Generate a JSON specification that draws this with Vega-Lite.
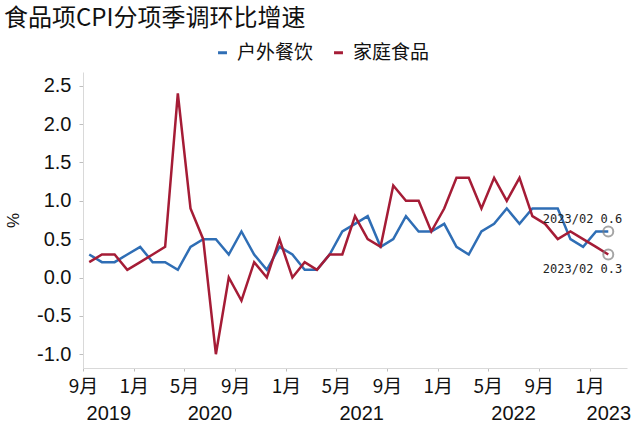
{
  "$schema": "https://vega.github.io/schema/vega-lite/v6.json",
  "width": 544,
  "height": 296,
  "autosize": {"type": "none"},
  "padding": {"left": 83, "top": 72, "right": 14, "bottom": 58},
  "background": "white",
  "title": {
    "text": "食品项CPI分项季调环比增速",
    "anchor": "start",
    "frame": "group",
    "dx": -79,
    "offset": 12,
    "font": "Noto Sans CJK SC",
    "fontSize": 24,
    "fontWeight": "normal",
    "color": "#111111"
  },
  "config": {
    "view": {"stroke": null},
    "axis": {"grid": false}
  },
  "data": {
    "values": [
      {"date": "2019-09", "series": "户外餐饮", "value": 0.3},
      {"date": "2019-10", "series": "户外餐饮", "value": 0.2},
      {"date": "2019-11", "series": "户外餐饮", "value": 0.2},
      {"date": "2019-12", "series": "户外餐饮", "value": 0.3},
      {"date": "2020-01", "series": "户外餐饮", "value": 0.4},
      {"date": "2020-02", "series": "户外餐饮", "value": 0.2},
      {"date": "2020-03", "series": "户外餐饮", "value": 0.2},
      {"date": "2020-04", "series": "户外餐饮", "value": 0.1},
      {"date": "2020-05", "series": "户外餐饮", "value": 0.4},
      {"date": "2020-06", "series": "户外餐饮", "value": 0.5},
      {"date": "2020-07", "series": "户外餐饮", "value": 0.5},
      {"date": "2020-08", "series": "户外餐饮", "value": 0.3},
      {"date": "2020-09", "series": "户外餐饮", "value": 0.6},
      {"date": "2020-10", "series": "户外餐饮", "value": 0.3},
      {"date": "2020-11", "series": "户外餐饮", "value": 0.1},
      {"date": "2020-12", "series": "户外餐饮", "value": 0.4},
      {"date": "2021-01", "series": "户外餐饮", "value": 0.3},
      {"date": "2021-02", "series": "户外餐饮", "value": 0.1},
      {"date": "2021-03", "series": "户外餐饮", "value": 0.1},
      {"date": "2021-04", "series": "户外餐饮", "value": 0.3},
      {"date": "2021-05", "series": "户外餐饮", "value": 0.6},
      {"date": "2021-06", "series": "户外餐饮", "value": 0.7},
      {"date": "2021-07", "series": "户外餐饮", "value": 0.8},
      {"date": "2021-08", "series": "户外餐饮", "value": 0.4},
      {"date": "2021-09", "series": "户外餐饮", "value": 0.5},
      {"date": "2021-10", "series": "户外餐饮", "value": 0.8},
      {"date": "2021-11", "series": "户外餐饮", "value": 0.6},
      {"date": "2021-12", "series": "户外餐饮", "value": 0.6},
      {"date": "2022-01", "series": "户外餐饮", "value": 0.7},
      {"date": "2022-02", "series": "户外餐饮", "value": 0.4},
      {"date": "2022-03", "series": "户外餐饮", "value": 0.3},
      {"date": "2022-04", "series": "户外餐饮", "value": 0.6},
      {"date": "2022-05", "series": "户外餐饮", "value": 0.7},
      {"date": "2022-06", "series": "户外餐饮", "value": 0.9},
      {"date": "2022-07", "series": "户外餐饮", "value": 0.7},
      {"date": "2022-08", "series": "户外餐饮", "value": 0.9},
      {"date": "2022-09", "series": "户外餐饮", "value": 0.9},
      {"date": "2022-10", "series": "户外餐饮", "value": 0.9},
      {"date": "2022-11", "series": "户外餐饮", "value": 0.5},
      {"date": "2022-12", "series": "户外餐饮", "value": 0.4},
      {"date": "2023-01", "series": "户外餐饮", "value": 0.6},
      {"date": "2023-02", "series": "户外餐饮", "value": 0.6},
      {"date": "2019-09", "series": "家庭食品", "value": 0.2},
      {"date": "2019-10", "series": "家庭食品", "value": 0.3},
      {"date": "2019-11", "series": "家庭食品", "value": 0.3},
      {"date": "2019-12", "series": "家庭食品", "value": 0.1},
      {"date": "2020-01", "series": "家庭食品", "value": 0.2},
      {"date": "2020-02", "series": "家庭食品", "value": 0.3},
      {"date": "2020-03", "series": "家庭食品", "value": 0.4},
      {"date": "2020-04", "series": "家庭食品", "value": 2.4},
      {"date": "2020-05", "series": "家庭食品", "value": 0.9},
      {"date": "2020-06", "series": "家庭食品", "value": 0.5},
      {"date": "2020-07", "series": "家庭食品", "value": -1.0},
      {"date": "2020-08", "series": "家庭食品", "value": 0.0},
      {"date": "2020-09", "series": "家庭食品", "value": -0.3},
      {"date": "2020-10", "series": "家庭食品", "value": 0.2},
      {"date": "2020-11", "series": "家庭食品", "value": 0.0},
      {"date": "2020-12", "series": "家庭食品", "value": 0.5},
      {"date": "2021-01", "series": "家庭食品", "value": 0.0},
      {"date": "2021-02", "series": "家庭食品", "value": 0.2},
      {"date": "2021-03", "series": "家庭食品", "value": 0.1},
      {"date": "2021-04", "series": "家庭食品", "value": 0.3},
      {"date": "2021-05", "series": "家庭食品", "value": 0.3},
      {"date": "2021-06", "series": "家庭食品", "value": 0.8},
      {"date": "2021-07", "series": "家庭食品", "value": 0.5},
      {"date": "2021-08", "series": "家庭食品", "value": 0.4},
      {"date": "2021-09", "series": "家庭食品", "value": 1.2},
      {"date": "2021-10", "series": "家庭食品", "value": 1.0},
      {"date": "2021-11", "series": "家庭食品", "value": 1.0},
      {"date": "2021-12", "series": "家庭食品", "value": 0.6},
      {"date": "2022-01", "series": "家庭食品", "value": 0.9},
      {"date": "2022-02", "series": "家庭食品", "value": 1.3},
      {"date": "2022-03", "series": "家庭食品", "value": 1.3},
      {"date": "2022-04", "series": "家庭食品", "value": 0.9},
      {"date": "2022-05", "series": "家庭食品", "value": 1.3},
      {"date": "2022-06", "series": "家庭食品", "value": 1.0},
      {"date": "2022-07", "series": "家庭食品", "value": 1.3},
      {"date": "2022-08", "series": "家庭食品", "value": 0.8},
      {"date": "2022-09", "series": "家庭食品", "value": 0.7},
      {"date": "2022-10", "series": "家庭食品", "value": 0.5},
      {"date": "2022-11", "series": "家庭食品", "value": 0.6},
      {"date": "2022-12", "series": "家庭食品", "value": 0.5},
      {"date": "2023-01", "series": "家庭食品", "value": 0.4},
      {"date": "2023-02", "series": "家庭食品", "value": 0.3}
    ]
  },
  "layer": [
    {
      "mark": {"type": "line", "strokeWidth": 2.5},
      "encoding": {
        "x": {
          "field": "date",
          "type": "temporal",
          "timeUnit": "utcyearmonth",
          "bandPosition": 0.5,
          "title": null,
          "scale": {
            "type": "utc",
            "domain": [
              {"year": 2019, "month": 9, "date": 1, "utc": true},
              {"year": 2023, "month": 4, "date": 1, "utc": true}
            ]
          },
          "axis": {
            "orient": "bottom",
            "values": [
              {"year": 2019, "month": 9, "date": 1, "utc": true},
              {"year": 2020, "month": 1, "date": 1, "utc": true},
              {"year": 2020, "month": 5, "date": 1, "utc": true},
              {"year": 2020, "month": 9, "date": 1, "utc": true},
              {"year": 2021, "month": 1, "date": 1, "utc": true},
              {"year": 2021, "month": 5, "date": 1, "utc": true},
              {"year": 2021, "month": 9, "date": 1, "utc": true},
              {"year": 2022, "month": 1, "date": 1, "utc": true},
              {"year": 2022, "month": 5, "date": 1, "utc": true},
              {"year": 2022, "month": 9, "date": 1, "utc": true},
              {"year": 2023, "month": 1, "date": 1, "utc": true}
            ],
            "labelExpr": "utcFormat(datum.value, '%-m') + '月'",
            "domainColor": "#d9d9d9",
            "domainWidth": 1,
            "tickColor": "#bfbfbf",
            "tickSize": 3,
            "labelPadding": 6,
            "labelFont": "Noto Sans CJK SC",
            "labelFontSize": 19,
            "labelColor": "#111111",
            "labelFlush": false,
            "labelOverlap": false
          }
        },
        "y": {
          "field": "value",
          "type": "quantitative",
          "title": "%",
          "scale": {"domain": [-1.18, 2.68], "nice": false, "zero": false},
          "axis": {
            "values": [-1, -0.5, 0, 0.5, 1, 1.5, 2, 2.5],
            "labelExpr": "replace(format(datum.value, '.1f'), '−', '-')",
            "domainColor": "#d9d9d9",
            "tickColor": "#bfbfbf",
            "tickSize": 4,
            "labelPadding": 8,
            "labelFont": "Liberation Sans",
            "labelFontSize": 20,
            "labelColor": "#111111",
            "titleFont": "Liberation Sans",
            "titleFontSize": 17,
            "titleFontWeight": "normal",
            "titleColor": "#111111",
            "titlePadding": 14
          }
        },
        "color": {
          "field": "series",
          "type": "nominal",
          "scale": {"domain": ["户外餐饮", "家庭食品"], "range": ["#2f6eb5", "#a51c36"]},
          "legend": {
            "title": null,
            "orient": "none",
            "direction": "horizontal",
            "legendX": 130,
            "legendY": -29,
            "symbolType": "stroke",
            "symbolSize": 80,
            "symbolStrokeWidth": 3,
            "labelFont": "Noto Sans CJK SC",
            "labelFontSize": 19,
            "labelColor": "#111111",
            "labelOffset": 5,
            "columnPadding": 14
          }
        }
      }
    },
    {
      "mark": {"type": "point", "opacity": 0},
      "encoding": {
        "x": {
          "field": "date",
          "type": "temporal",
          "timeUnit": "utcyearmonth",
          "bandPosition": 0.5,
          "title": null,
          "axis": {
            "orient": "bottom",
            "values": [
              {"year": 2019, "month": 11, "date": 1, "utc": true},
              {"year": 2020, "month": 7, "date": 1, "utc": true},
              {"year": 2021, "month": 7, "date": 1, "utc": true},
              {"year": 2022, "month": 7, "date": 1, "utc": true},
              {"year": 2023, "month": 2, "date": 15, "utc": true}
            ],
            "labelExpr": "utcFormat(datum.value, '%Y')",
            "domain": false,
            "ticks": false,
            "tickSize": 0,
            "labelPadding": 35,
            "labelFont": "Liberation Sans",
            "labelFontSize": 20,
            "labelColor": "#111111",
            "labelFlush": false,
            "labelOverlap": false
          }
        }
      }
    },
    {
      "transform": [
        {"filter": {"field": "date", "timeUnit": "utcyearmonth", "equal": {"year": 2023, "month": 2, "utc": true}}}
      ],
      "mark": {"type": "point", "filled": false, "stroke": "#808080", "strokeWidth": 2, "size": 100},
      "encoding": {
        "x": {"field": "date", "type": "temporal", "timeUnit": "utcyearmonth", "bandPosition": 0.5, "axis": null},
        "y": {"field": "value", "type": "quantitative"}
      }
    },
    {
      "transform": [
        {"filter": {"field": "date", "timeUnit": "utcyearmonth", "equal": {"year": 2023, "month": 2, "utc": true}}},
        {"filter": "datum.series == '户外餐饮'"},
        {"calculate": "utcFormat(toDate(datum.date), '%Y/%m') + ' ' + format(datum.value, '.1f')", "as": "label"}
      ],
      "mark": {"type": "text", "align": "right", "baseline": "middle", "dx": 14, "dy": -13, "font": "DejaVu Sans Mono", "fontSize": 12, "color": "#222222"},
      "encoding": {
        "x": {"field": "date", "type": "temporal", "timeUnit": "utcyearmonth", "bandPosition": 0.5, "axis": null},
        "y": {"field": "value", "type": "quantitative"},
        "text": {"field": "label", "type": "nominal"}
      }
    },
    {
      "transform": [
        {"filter": {"field": "date", "timeUnit": "utcyearmonth", "equal": {"year": 2023, "month": 2, "utc": true}}},
        {"filter": "datum.series == '家庭食品'"},
        {"calculate": "utcFormat(toDate(datum.date), '%Y/%m') + ' ' + format(datum.value, '.1f')", "as": "label"}
      ],
      "mark": {"type": "text", "align": "right", "baseline": "middle", "dx": 14, "dy": 14, "font": "DejaVu Sans Mono", "fontSize": 12, "color": "#222222"},
      "encoding": {
        "x": {"field": "date", "type": "temporal", "timeUnit": "utcyearmonth", "bandPosition": 0.5, "axis": null},
        "y": {"field": "value", "type": "quantitative"},
        "text": {"field": "label", "type": "nominal"}
      }
    }
  ],
  "resolve": {"axis": {"x": "independent"}}
}
